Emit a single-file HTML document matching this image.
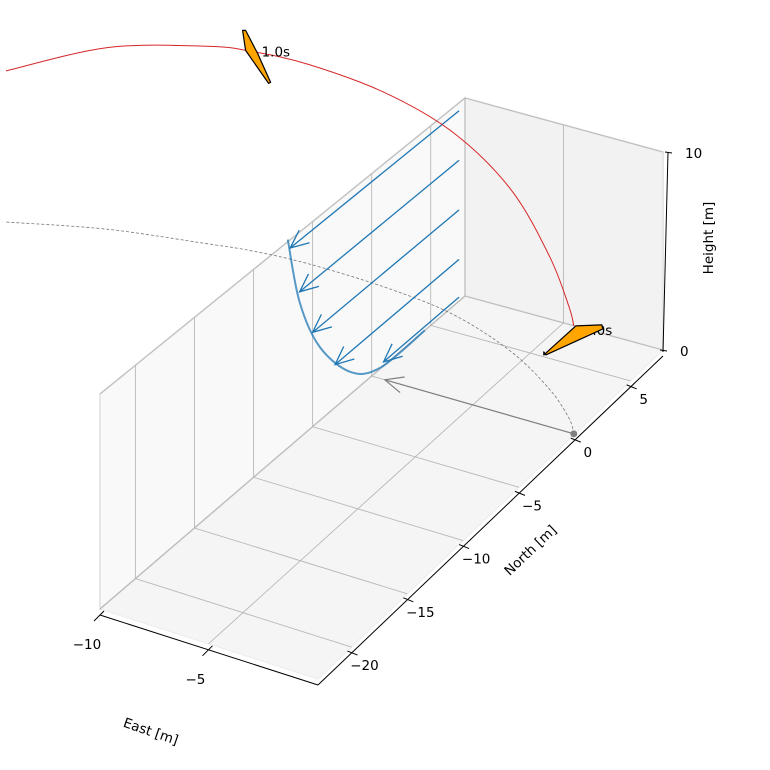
<!DOCTYPE html>
<html><head><meta charset="utf-8"><style>
html,body{margin:0;padding:0;background:#fff;}
svg{display:block;font-family:"DejaVu Sans","Liberation Sans",sans-serif;}
</style></head><body>
<svg id="chart" width="770" height="770" viewBox="0 0 770 770"></svg>
<script>
// ---- data ----
const trajE = [0, -0.81, -2.74, -5.81, -9.64, -13.45, -17.45, -20.2, -22.2, -26.55, -30.6];
const trajN = [0, 1.03, 2.74, 4.72, 6.28, 6.91, 7.1, 6.9, 6.5, 5.5, 3.85];
const trajH = [5.3, 5.5, 6.6, 8.1, 9.15, 9.8, 10.05, 10.05, 9.95, 9.15, 7.6];
const markerIdx = [0, 7];
const markerLabels = ["0.0s", "1.0s"];
const sideN = [-7.1, -6.1, -4.4, -1.8, 0.7, 4.5];
const sideH = [10.1, 6.6, 3.6, 1.1, 0.05, 0];
const arrowStartN = [7.4, 7.4, 7.4, 7.4, 7.4];
const arrowTipN = [-6.9, -6.1, -5.0, -3.1, 1.0];
const arrowH = [9.6, 7.1, 4.6, 2.1, 0.2];
const velStart = [0, 0, 0];
const velVec = [-9.35, 0, 0];
const eTicks = [-10, -5];
const nTicks = [-20, -15, -10, -5, 0, 5];
const hTicks = [0, 10];

// ---- axes / projection ----
const Emin = -10, Emax = 0.05, Nmin = -23, Nmax = 7.9, Hmax = 10;
const A = [100, 609], B = [318, 679], C = [663, 350], D = [465, 296];
const hA = 21.5, hB = 22, hC = 19.8, hD = 19.8;
function project(e, n, h) {
  const u = (e - Emin) / (Emax - Emin), v = (n - Nmin) / (Nmax - Nmin);
  const a = (1 - u) * (1 - v), b = u * (1 - v), c = u * v, d = (1 - u) * v;
  const x = A[0] * a + B[0] * b + C[0] * c + D[0] * d;
  const y = A[1] * a + B[1] * b + C[1] * c + D[1] * d;
  const hs = hA * a + hB * b + hC * c + hD * d;
  return [x, y - h * hs];
}
const svg = document.getElementById('chart');
const NS = 'http://www.w3.org/2000/svg';
function mk(tag, attrs, parent) {
  const el = document.createElementNS(NS, tag);
  for (const k in attrs) el.setAttribute(k, attrs[k]);
  (parent || svg).appendChild(el);
  return el;
}
function pts(arr) { return arr.map(p => p[0].toFixed(1) + ',' + p[1].toFixed(1)).join(' '); }
function smoothPath(p) {
  let d = 'M' + p[0][0].toFixed(1) + ' ' + p[0][1].toFixed(1);
  for (let i = 0; i < p.length - 1; i++) {
    const p0 = p[Math.max(0, i - 1)], p1 = p[i], p2 = p[i + 1], p3 = p[Math.min(p.length - 1, i + 2)];
    const c1 = [p1[0] + (p2[0] - p0[0]) / 6, p1[1] + (p2[1] - p0[1]) / 6];
    const c2 = [p2[0] - (p3[0] - p1[0]) / 6, p2[1] - (p3[1] - p1[1]) / 6];
    d += ' C' + c1.map(v => v.toFixed(1)).join(' ') + ' ' + c2.map(v => v.toFixed(1)).join(' ') + ' ' + p2.map(v => v.toFixed(1)).join(' ');
  }
  return d;
}
function arrowHead(tip, from, len, color, sw, parent) {
  const dx = from[0] - tip[0], dy = from[1] - tip[1], L = Math.hypot(dx, dy);
  const ux = dx / L, uy = dy / L, ang = 0.42;
  const r1 = [tip[0] + len * (ux * Math.cos(ang) - uy * Math.sin(ang)), tip[1] + len * (ux * Math.sin(ang) + uy * Math.cos(ang))];
  const r2 = [tip[0] + len * (ux * Math.cos(-ang) - uy * Math.sin(-ang)), tip[1] + len * (ux * Math.sin(-ang) + uy * Math.cos(-ang))];
  return mk('polyline', {points: pts([r1, tip, r2]), fill: 'none', stroke: color, 'stroke-width': sw}, parent);
}

// panes
const floor = mk('polygon', {points: pts([project(Emin,Nmin,0), project(Emax,Nmin,0), project(Emax,Nmax,0), project(Emin,Nmax,0)]), fill: '#f5f5f5', stroke: '#ececec', 'stroke-width': 1});


const leftWall = mk('polygon', {points: pts([project(Emin,Nmin,0), project(Emin,Nmax,0), project(Emin,Nmax,Hmax), project(Emin,Nmin,Hmax)]), fill: '#f9f9f9', stroke: '#e6e6e6', 'stroke-width': 2});


const rightWall = mk('polygon', {points: pts([project(Emin,Nmax,0), project(Emax,Nmax,0), project(Emax,Nmax,Hmax), project(Emin,Nmax,Hmax)]), fill: '#f2f2f2', stroke: '#e6e6e6', 'stroke-width': 2});



// grid
const grid = mk('g', {stroke: '#b8b8b8', 'stroke-width': 0.9, fill: 'none'});


nTicks.forEach(n => {
  const l1 = mk('polyline', {points: pts([project(Emax,n,0), project(Emin,n,0), project(Emin,n,Hmax)])}, grid);
  
  
});
eTicks.forEach(e => {
  const l2 = mk('polyline', {points: pts([project(e,Nmin,0), project(e,Nmax,0), project(e,Nmax,Hmax)])}, grid);
  
  
});
hTicks.forEach(h => {
  const l3 = mk('polyline', {points: pts([project(Emin,Nmin,h), project(Emin,Nmax,h), project(Emax,Nmax,h)])}, grid);
  
  
});

// axes
const axes = mk('g', {stroke: '#000', 'stroke-width': 1, fill: 'none'});


const off = p => [p[0], p[1] + 6];
const eAxis = mk('line', {x1: off(project(Emin,Nmin,0))[0], y1: off(project(Emin,Nmin,0))[1], x2: off(project(Emax,Nmin,0))[0], y2: off(project(Emax,Nmin,0))[1]}, axes);


const nAxis = mk('line', {x1: off(project(Emax,Nmin,0))[0], y1: off(project(Emax,Nmin,0))[1], x2: off(project(Emax,Nmax,0))[0], y2: off(project(Emax,Nmax,0))[1]}, axes);


const hb = project(Emax,Nmax,0), ht = project(Emax,Nmax,Hmax);
const hAxis = mk('line', {x1: hb[0], y1: hb[1] + 2, x2: ht[0] + 5, y2: ht[1]}, axes);



const labels = mk('g', {'font-size': '13.5px', fill: '#000'});


function fmt(v) { return v < 0 ? '\u2212' + Math.abs(v) : String(v); }
eTicks.forEach(e => {
  const p = off(project(e,Nmin,0));
  const t = mk('line', {x1: p[0] - 6, y1: p[1] + 6, x2: p[0] + 4, y2: p[1] - 4}, axes);
  
  
  const tx = mk('text', {x: p[0] - 13, y: p[1] + 34, 'text-anchor': 'middle'}, labels);
  tx.textContent = fmt(e);
  
  
});
nTicks.forEach(n => {
  const p = off(project(Emax,n,0));
  const t = mk('line', {x1: p[0] - 4, y1: p[1] - 2, x2: p[0] + 6, y2: p[1] + 2}, axes);
  
  
  const tx = mk('text', {x: p[0] + 13, y: p[1] + 17, 'text-anchor': 'middle'}, labels);
  tx.textContent = fmt(n);
  
  
});
hTicks.forEach(h => {
  const p = project(Emax,Nmax,h);
  const px = p[0] + h * 0.5;
  const t = mk('line', {x1: px - 3, y1: p[1], x2: px + 4, y2: p[1] + 1}, axes);
  
  
  const tx = mk('text', {x: px + 17, y: p[1] + 6, 'text-anchor': 'start'}, labels);
  tx.textContent = fmt(h);
  
  
});
const xt = mk('text', {x: 151, y: 736, 'text-anchor': 'middle', transform: 'rotate(19 151 731)'}, labels);
xt.textContent = 'East [m]';


const yt = mk('text', {x: 530, y: 555, 'text-anchor': 'middle', transform: 'rotate(-43.5 530 550)'}, labels);
yt.textContent = 'North [m]';


const zt = mk('text', {x: 708, y: 243, 'text-anchor': 'middle', transform: 'rotate(-90 708 238)'}, labels);
zt.textContent = 'Height [m]';



// ground track
const groundPts = trajE.map((e, i) => project(e, trajN[i], 0));
const ground = mk('path', {d: smoothPath(groundPts), fill: 'none', stroke: '#777', 'stroke-width': 0.8, 'stroke-dasharray': '3,2'});



// velocity arrow
const vs = project(velStart[0], velStart[1], velStart[2]);
const ve = project(velStart[0] + velVec[0], velStart[1] + velVec[1], velStart[2] + velVec[2]);
const vg = mk('g', {});


mk('line', {x1: vs[0], y1: vs[1], x2: ve[0], y2: ve[1], stroke: '#808080', 'stroke-width': 1.2}, vg);
arrowHead(ve, vs, 20, '#808080', 1.2, vg);
const dot = mk('circle', {cx: vs[0], cy: vs[1], r: 3.5, fill: '#808080'});



// side projection curve
const sidePts = sideN.map((n, i) => project(Emin, n, sideH[i]));
const side = mk('path', {d: smoothPath(sidePts), fill: 'none', stroke: '#1f77b4', 'stroke-opacity': 0.75, 'stroke-width': 2});



// wind arrows
arrowTipN.forEach((n, i) => {
  const g = mk('g', {});
  
  
  const s = project(Emin, arrowStartN[i], arrowH[i]);
  const t = project(Emin, n, arrowH[i]);
  mk('line', {x1: s[0], y1: s[1], x2: t[0], y2: t[1], stroke: '#1f77b4', 'stroke-width': 1.3}, g);
  arrowHead(t, s, 20, '#1f77b4', 1.3, g);
});

// trajectory
const trajPts = trajE.map((e, i) => project(e, trajN[i], trajH[i]));
const traj = mk('path', {d: smoothPath(trajPts), fill: 'none', stroke: '#d62728', 'stroke-width': 1});



// markers
const shapes = [
  [[-30,26],[-30,29],[2,0],[28,-1],[29,3],[-28,29]],
  [[-9,-21],[-6,-21],[6,2],[19,31],[17,32],[-6,-1]]
];
const labelDy = [9, 5];
markerIdx.forEach((idx, k) => {
  const p = trajPts[idx];
  const lab = mk('text', {x: p[0] + 10, y: p[1] + labelDy[k], 'font-size': '13.5px', fill: '#000'});
  lab.textContent = markerLabels[k];
  
  
  const poly = mk('polygon', {points: pts(shapes[k].map(o => [p[0] + o[0], p[1] + o[1]])), fill: '#ffa500', stroke: '#000', 'stroke-width': 1.2, 'stroke-linejoin': 'round'});
  
  
});
</script>
</body></html>
